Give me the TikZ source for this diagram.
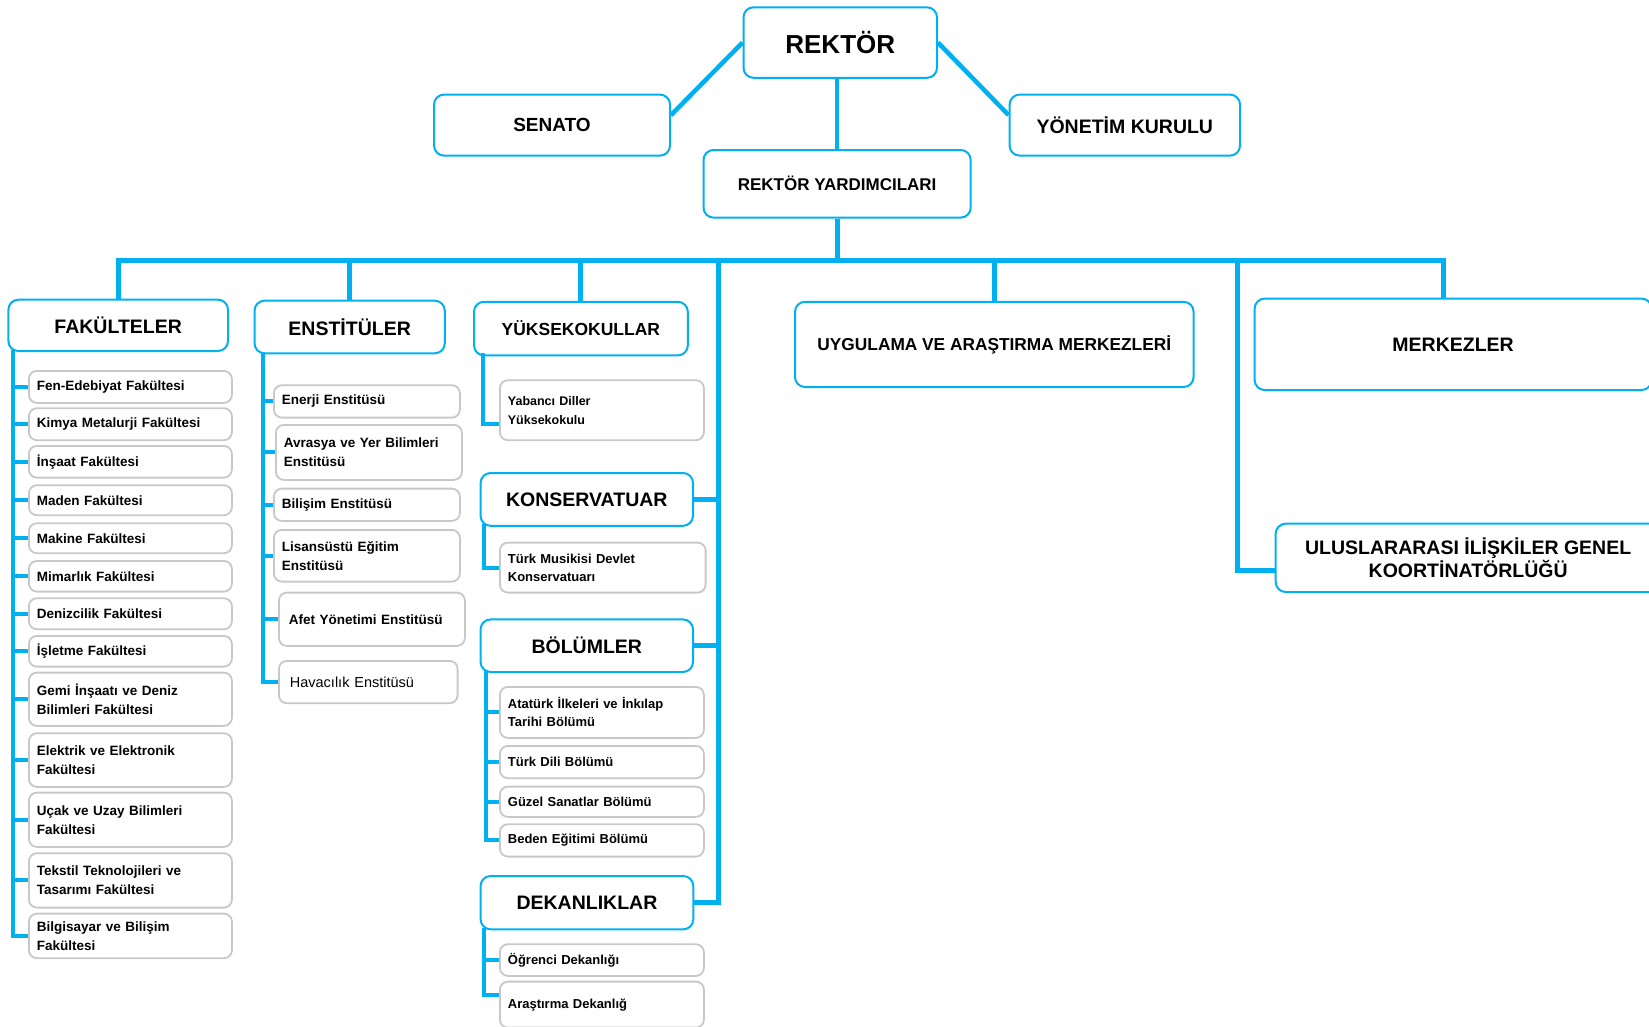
\documentclass[tikz,border=0pt]{standalone}
\usepackage{fontspec}
\setmainfont{Liberation Sans}
\definecolor{orgblue}{RGB}{0,176,240}
\definecolor{boxgray}{RGB}{200,200,200}
\tikzset{
  link/.style={draw=orgblue, line width=5pt},
  twig/.style={draw=orgblue, line width=4pt},
  head/.style={draw=orgblue, line width=2pt, rounded corners=10pt, fill=white,
    anchor=north west, inner sep=0pt, align=center,
    font=\bfseries\fontsize{19.5}{21}\selectfont},
  unit/.style={draw=boxgray, line width=1.8pt, rounded corners=8pt, fill=white,
    anchor=north west, inner xsep=8pt, inner ysep=0pt, align=left,
    font=\bfseries\fontsize{13.5}{19}\selectfont},
  fitem/.style={unit, text width=187pt},
  eitem/.style={unit, text width=170pt},
  mitem/.style={unit, text width=188pt},
}
\begin{document}
\begin{tikzpicture}[x=1pt,y=-1pt]
\useasboundingbox (0,0) rectangle (1649,1026);

% top of the chart
\node[head, minimum width=193.5pt, minimum height=70.5pt, font=\bfseries\fontsize{26}{30}\selectfont] (rek) at (742.5,6.3) {REKTÖR};
\node[head, minimum width=236pt, minimum height=61pt, font=\bfseries\fontsize{19}{21}\selectfont] (sen) at (433,93.6) {SENATO};
\node[head, minimum width=230.4pt, minimum height=61pt] (yon) at (1008.6,93.6) {YÖNETİM KURULU};
\node[head, minimum width=267.2pt, minimum height=67.6pt, font=\bfseries\fontsize{17}{19}\selectfont] (ryard) at (702.5,149) {REKTÖR YARDIMCILARI};

% first level
\node[head, minimum width=219.6pt, minimum height=51.3pt] (fak) at (7.4,298.7) {FAKÜLTELER};
\node[head, minimum width=190.3pt, minimum height=52.6pt] (ens) at (253.5,299.7) {ENSTİTÜLER};
\node[head, minimum width=213.8pt, minimum height=53.6pt, font=\bfseries\fontsize{17.5}{20}\selectfont] (yuk) at (473,300.8) {YÜKSEKOKULLAR};
\node[head, minimum width=398.6pt, minimum height=85.2pt, font=\bfseries\fontsize{17.3}{20}\selectfont] (uyg) at (794,300.8) {UYGULAMA VE ARAŞTIRMA MERKEZLERİ};
\node[head, minimum width=397pt, minimum height=91.4pt] (merk) at (1253.6,297.6) {MERKEZLER};
\node[head, minimum width=385pt, minimum height=68.3pt] (ulus) at (1274.7,522.7) {ULUSLARARASI İLİŞKİLER GENEL\\KOORTİNATÖRLÜĞÜ};
\node[head, minimum width=212.4pt, minimum height=52.8pt] (kons) at (479.6,472) {KONSERVATUAR};
\node[head, minimum width=212.4pt, minimum height=52.6pt] (bol) at (479.6,618.4) {BÖLÜMLER};
\node[head, minimum width=212.7pt, minimum height=53.3pt] (dek) at (479.6,875) {DEKANLIKLAR};

% faculties
\node[fitem, minimum height=32pt] (f1) at (28,370) {Fen-Edebiyat Fakültesi};
\node[fitem, minimum height=32pt] (f2) at (28,407.3) {Kimya Metalurji Fakültesi};
\node[fitem, minimum height=31.7pt] (f3) at (28,445) {İnşaat Fakültesi};
\node[fitem, minimum height=30pt] (f4) at (28,484.3) {Maden Fakültesi};
\node[fitem, minimum height=30pt] (f5) at (28,522.3) {Makine Fakültesi};
\node[fitem, minimum height=30.7pt] (f6) at (28,560) {Mimarlık Fakültesi};
\node[fitem, minimum height=31pt] (f7) at (28,597.3) {Denizcilik Fakültesi};
\node[fitem, minimum height=30.7pt] (f8) at (28,635) {İşletme Fakültesi};
\node[fitem, minimum height=53.3pt] (f9) at (28,671.7) {Gemi İnşaatı ve Deniz\\Bilimleri Fakültesi};
\node[fitem, minimum height=53.7pt] (f10) at (28,732.3) {Elektrik ve Elektronik\\Fakültesi};
\node[fitem, minimum height=54.3pt] (f11) at (28,791.7) {Uçak ve Uzay Bilimleri\\Fakültesi};
\node[fitem, minimum height=54.4pt] (f12) at (28,852.3) {Tekstil Teknolojileri ve\\Tasarımı Fakültesi};
\node[fitem, minimum height=44.6pt] (f13) at (28,912.7) {Bilgisayar ve Bilişim\\Fakültesi};

% institutes
\node[eitem, minimum height=32.4pt] (e1) at (273,384.3) {Enerji Enstitüsü};
\node[eitem, minimum height=55pt] (e2) at (275,424) {Avrasya ve Yer Bilimleri\\Enstitüsü};
\node[eitem, minimum height=32.3pt] (e3) at (273,487.7) {Bilişim Enstitüsü};
\node[eitem, minimum height=51.7pt] (e4) at (273,529) {Lisansüstü Eğitim\\Enstitüsü};
\node[eitem, minimum height=53.3pt, inner xsep=10pt, text width=166pt] (e5) at (278,591.7) {Afet Yönetimi Enstitüsü};
\node[eitem, minimum height=42.3pt, inner xsep=11pt, text width=156.7pt, font=\mdseries\fontsize{14.5}{19}\selectfont] (e6) at (278,660) {Havacılık Enstitüsü};

% middle column
\node[mitem, minimum height=60pt, font=\bfseries\fontsize{12.5}{19}\selectfont] (yab) at (499,379.3) {Yabancı Diller\\Yüksekokulu};
\node[mitem, minimum height=50pt, text width=189.7pt, font=\bfseries\fontsize{13}{18}\selectfont] (tms) at (499,541.7) {Türk Musikisi Devlet\\Konservatuarı};
\node[mitem, minimum height=51pt, font=\bfseries\fontsize{13}{18}\selectfont] (b1) at (499,686) {Atatürk İlkeleri ve İnkılap\\Tarihi Bölümü};
\node[mitem, minimum height=32.3pt, font=\bfseries\fontsize{13}{18}\selectfont] (b2) at (499,745) {Türk Dili Bölümü};
\node[mitem, minimum height=30.3pt, font=\bfseries\fontsize{13}{18}\selectfont] (b3) at (499,785.7) {Güzel Sanatlar Bölümü};
\node[mitem, minimum height=32.4pt, font=\bfseries\fontsize{13}{18}\selectfont] (b4) at (499,823.3) {Beden Eğitimi Bölümü};
\node[mitem, minimum height=31.7pt, font=\bfseries\fontsize{13}{18}\selectfont] (d1) at (499,943.3) {Öğrenci Dekanlığı};
\node[mitem, minimum height=46pt, font=\bfseries\fontsize{13}{18}\selectfont] (d2) at (499,980.7) {Araştırma Dekanlığ};

% joints of the connectors
\coordinate (hub) at (ryard.south |- 0,260.8);
\coordinate (spine) at (718.3,260.8);
\coordinate (spine2) at (1237.5,260.8);
\coordinate (mdrop) at (1443,260.8);
\coordinate (fx) at (12.7,350);
\coordinate (ex) at (263,352);
\coordinate (yx) at (482.7,353);
\coordinate (kx) at (484,524);
\coordinate (bx) at (486,670);
\coordinate (dx) at (484,928);

% connectors
\draw[link, line width=4.5pt] ([yshift=10pt]sen.east) -- (rek.west);
\draw[link, line width=4.5pt] (rek.east) -- ([yshift=10pt]yon.west);
\draw[link, line width=4.5pt] (ryard.north) -- (ryard.north |- rek.south);
\draw[link] (ryard.south) -- (hub);
\draw[link] (fak.north) -- (fak.north |- hub) -- (mdrop) -- (mdrop |- merk.north);
\draw[link] (ens.north) -- (ens.north |- hub);
\draw[link] (yuk.north) -- (yuk.north |- hub);
\draw[link] (uyg.north) -- (uyg.north |- hub);
\draw[link] (spine) |- (dek.east);
\draw[link] (kons.east) -- (kons.east -| spine);
\draw[link] (bol.east) -- (bol.east -| spine);
\draw[link] (spine2) |- (ulus.west |- 0,570);

\draw[twig] (fx) |- (f13.west)
  (f1.west) -- (f1.west -| fx) (f2.west) -- (f2.west -| fx)
  (f3.west) -- (f3.west -| fx) (f4.west) -- (f4.west -| fx)
  (f5.west) -- (f5.west -| fx) (f6.west) -- (f6.west -| fx)
  (f7.west) -- (f7.west -| fx) (f8.west) -- (f8.west -| fx)
  (f9.west) -- (f9.west -| fx) (f10.west) -- (f10.west -| fx)
  (f11.west) -- (f11.west -| fx) (f12.west) -- (f12.west -| fx);
\draw[twig] (ex) |- (e6.west)
  (e1.west) -- (e1.west -| ex) (e2.west) -- (e2.west -| ex)
  (e3.west) -- (e3.west -| ex) (e4.west) -- (e4.west -| ex)
  (e5.west) -- (e5.west -| ex);
\draw[twig] (yx) |- ([yshift=-14pt]yab.west);
\draw[twig] (kx) |- (tms.west);
\draw[twig] (bx) |- (b4.west)
  (b1.west) -- (b1.west -| bx) (b2.west) -- (b2.west -| bx)
  (b3.west) -- (b3.west -| bx);
\draw[twig] (dx) |- ([yshift=10pt]d2.west)
  (d1.west) -- (d1.west -| dx);
\end{tikzpicture}
\end{document}
